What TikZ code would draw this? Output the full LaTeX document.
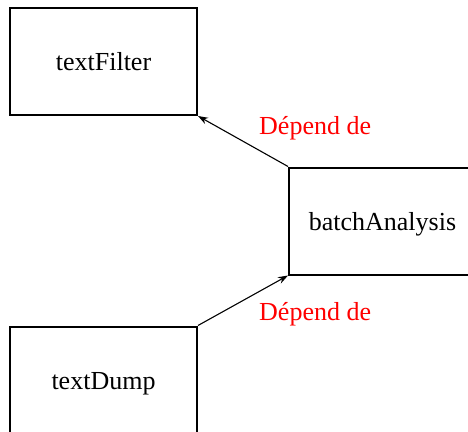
\documentclass[tikz,border=0pt]{standalone}
\usepackage{fontspec}
\setmainfont{Liberation Serif}
\usepackage{xcolor}
\usetikzlibrary{arrows.meta}

\tikzset{
  module/.style={draw, line width=2pt, minimum width=187pt, minimum height=107pt,
    inner sep=0pt, text height=18pt, text depth=0pt, font=\fontsize{26}{30}\selectfont},
  deplabel/.style={text=red, anchor=west, inner sep=0pt, font=\fontsize{26}{30}\selectfont},
  dep/.style={-{Stealth[length=10pt,width=7pt]}, line width=1.1pt}
}

\begin{document}
\begin{tikzpicture}[x=1pt, y=-1pt]
  \useasboundingbox (0,0) rectangle (468,431);
  \begin{scope}
  \clip (0,0) rectangle (468,431);
  \node[module] (filter) at (103.5,61.5) {textFilter};
  \node[module] (batch)  at (382.5,221)  {batchAnalysis};
  \node[module] (dump)   at (103.5,380)  {textDump};

  \node[deplabel] (lblA) at (259,128.5) {Dépend de};
  \node[deplabel] (lblB) at (259,314.5) {Dépend de};

  \path[dep]
    (batch.north west) edge (filter.south east)
    (dump.north east)  edge (batch.south west);
  \end{scope}
\end{tikzpicture}
\end{document}
